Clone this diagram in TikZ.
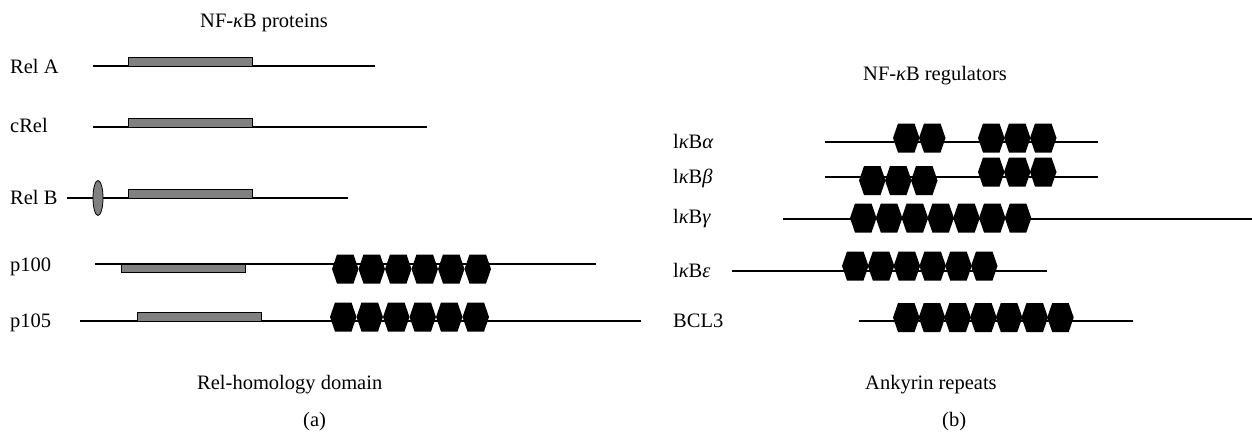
\documentclass[tikz,border=0pt]{standalone}
\usepackage{fontspec}
\setmainfont{Liberation Serif}
\definecolor{domgray}{HTML}{808080}
\begin{document}
\begin{tikzpicture}[x=1pt,y=-1pt,
  lbl/.style={anchor=base west,inner sep=0pt,font=\fontsize{20.5}{23}\selectfont},
  prot/.style={line width=1.2pt},
  rhd/.style={draw=black,line width=0.8pt,fill=domgray},
  hexa/.pic={\fill[black] (0,0) -- (5,-14.5) -- (21.5,-14.5) -- (26.5,0) -- (21.5,14.5) -- (5,14.5) -- cycle;}
]
\useasboundingbox (0,0) rectangle (1252,434);
% ---------- panel (a) ----------
\node[lbl] (ta) at (200,27) {NF-{\itshape κ}B proteins};
% Rel A
\node[lbl] (relA) at (10,73) {Rel A};
\coordinate (relAs) at (93,66); \coordinate (relAe) at (375,66);
\draw[prot] (relAs) -- (relAe);
\draw[rhd] (128,57.5) rectangle (252,66);
% cRel
\node[lbl] (crel) at (10,132) {cRel};
\coordinate (crels) at (93,127); \coordinate (crele) at (427,127);
\draw[prot] (crels) -- (crele);
\draw[rhd] (128,118.5) rectangle (252,127);
% Rel B
\node[lbl] (relB) at (10,204) {Rel B};
\coordinate (relBs) at (67,198); \coordinate (relBe) at (348,198);
\draw[prot] (relBs) -- (relBe);
\draw[rhd] (128,189.5) rectangle (252,198);
\draw[rhd] (98,198) ellipse [x radius=5, y radius=17.5];
% p100
\node[lbl] (p100) at (10,271) {p100};
\coordinate (p100s) at (95,264); \coordinate (p100e) at (596,264);
\draw[prot] (p100s) -- (p100e);
\draw[rhd] (121,264) rectangle (245,272.5);
\foreach \k in {0,...,5} \pic at ({332+26.5*\k},269) {hexa};
% p105
\node[lbl] (p105) at (10,327) {p105};
\coordinate (p105s) at (80,321); \coordinate (p105e) at (641,321);
\draw[prot] (p105s) -- (p105e);
\draw[rhd] (137,312.5) rectangle (261,321);
\foreach \k in {0,...,5} \pic at ({330+26.5*\k},317) {hexa};
\node[lbl] (rhdl) at (197,389) {Rel-homology domain};
\node[lbl] (capa) at (303,426) {(a)};
% ---------- panel (b) ----------
\node[lbl] (tb) at (863,80) {NF-{\itshape κ}B regulators};
% IkBa
\node[lbl] (ia) at (673,148) {l{\itshape κ}B{\itshape α}};
\coordinate (ias) at (825,142); \coordinate (iae) at (1098,142);
\draw[prot] (ias) -- (iae);
\foreach \k in {0,1} \pic at ({893+26*\k},138) {hexa};
\foreach \k in {0,1,2} \pic at ({978+26*\k},138) {hexa};
% IkBb
\node[lbl] (ib) at (673,183) {l{\itshape κ}B{\itshape β}};
\coordinate (ibs) at (825,177); \coordinate (ibe) at (1098,177);
\draw[prot] (ibs) -- (ibe);
\foreach \k in {0,1,2} \pic at ({859+26*\k},180.5) {hexa};
\foreach \k in {0,1,2} \pic at ({978+26*\k},172) {hexa};
% IkBg
\node[lbl] (ig) at (673,223) {l{\itshape κ}B{\itshape γ}};
\coordinate (igs) at (783,219); \coordinate (ige) at (1252,219);
\draw[prot] (igs) -- (ige);
\foreach \k in {0,...,6} \pic at ({850+25.8*\k},218) {hexa};
% IkBe
\node[lbl] (ie) at (673,277) {l{\itshape κ}B{\itshape ε}};
\coordinate (ies) at (732,271); \coordinate (iee) at (1047,271);
\draw[prot] (ies) -- (iee);
\foreach \k in {0,...,5} \pic at ({842+25.8*\k},266) {hexa};
% BCL3
\node[lbl] (bcl) at (673,327) {BCL3};
\coordinate (bcls) at (859,321) ; \coordinate (bcle) at (1133,321);
\draw[prot] (bcls) -- (bcle);
\foreach \k in {0,...,6} \pic at ({893+25.7*\k},317.5) {hexa};
\node[lbl] (ank) at (865,389) {Ankyrin repeats};
\node[lbl] (capb) at (942,426) {(b)};
\end{tikzpicture}
\end{document}
